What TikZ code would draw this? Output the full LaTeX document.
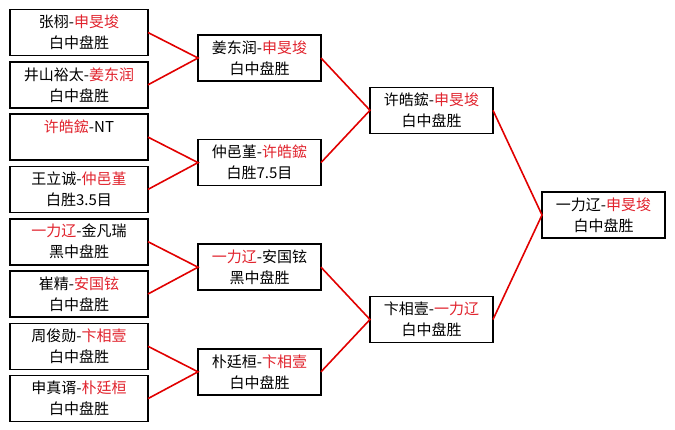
\documentclass[tikz,border=0pt]{standalone}
\usepackage{fontspec}
\usepackage{xcolor}
\newfontfamily\cjk{Noto Sans CJK SC}
\definecolor{winred}{RGB}{225,35,45}
\definecolor{linkred}{RGB}{225,0,0}
\newcommand*\firstwd{138pt}
\newcommand*\laterwd{123pt}
\newcommand*\gameht {46pt}
\newcommand*\win[1]{\textcolor{winred}{#1}}
\tikzset{
    game/.style      = {draw, line width=1.6pt, fill=white,
                       minimum width=\firstwd, minimum height=\gameht,
                       inner sep=0pt, outer sep=0pt, align=center,
                       font=\cjk\fontsize{15}{21}\selectfont},
    latergame/.style = {game, minimum width=\laterwd},
    link/.style      = {draw=linkred, line width=1.6pt},
  }
\begin{document}
\begin{tikzpicture}[x=1pt,y=1pt]
        \useasboundingbox (0,0) rectangle (675,-429);

        % Round 1: eight games
        \foreach \a/\b [count=\i from 1] in {
            {张栩-\win{申旻埈}}/{白中盘胜},
            {井山裕太-\win{姜东润}}/{白中盘胜},
            {\win{许皓鋐}-NT}/{},
            {王立诚-\win{仲邑堇}}/{白胜3.5目},
            {\win{一力辽}-金凡瑞}/{黑中盘胜},
            {崔精-\win{安国铉}}/{白中盘胜},
            {周俊勋-\win{卞相壹}}/{白中盘胜},
            {申真谞-\win{朴廷桓}}/{白中盘胜}} {
            \node[game] (R1-\i) at (79,{-32.5-52.3*(\i-1)}) {\a\\\b};
        }

        % Round 2: four games
        \foreach \a/\b [count=\i from 1] in {
            {姜东润-\win{申旻埈}}/{白中盘胜},
            {仲邑堇-\win{许皓鋐}}/{白胜7.5目},
            {\win{一力辽}-安国铉}/{黑中盘胜},
            {朴廷桓-\win{卞相壹}}/{白中盘胜}} {
            \node[latergame] (R2-\i) at (259.5,{-58-104.6*(\i-1)}) {\a\\\b};
        }

        % Semi finals
        \node[latergame] (R3-1) at (431.5,-110.3) {许皓鋐-\win{申旻埈}\\白中盘胜};
        \node[latergame] (R3-2) at (431.5,-319.5) {卞相壹-\win{一力辽}\\白中盘胜};

        % Final
        \node[latergame] (R4-1) at (603.5,-215) {一力辽-\win{申旻埈}\\白中盘胜};

        % Bracket lines: each pair of games feeds the next round
        \foreach \j in {1,...,4} {
            \pgfmathtruncatemacro\up{2*\j-1}
            \pgfmathtruncatemacro\dn{2*\j}
            \draw[link] (R1-\up.east) -- (R2-\j.west) -- (R1-\dn.east);
        }
        \foreach \j in {1,2} {
            \pgfmathtruncatemacro\up{2*\j-1}
            \pgfmathtruncatemacro\dn{2*\j}
            \draw[link] (R2-\up.east) -- (R3-\j.west) -- (R2-\dn.east);
        }
        \draw[link] (R3-1.east) -- (R4-1.west) -- (R3-2.east);
    \end{tikzpicture}
\end{document}
